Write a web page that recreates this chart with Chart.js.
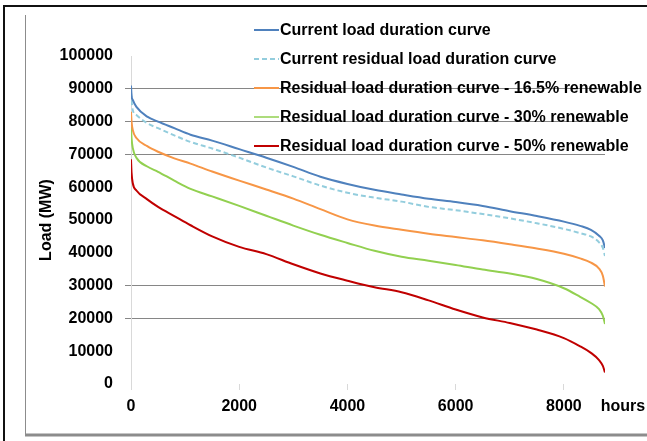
<!DOCTYPE html>
<html>
<head>
<meta charset="utf-8">
<script src="https://cdn.jsdelivr.net/npm/chart.js@4.4.1/dist/chart.umd.min.js"></script>
<style>
  body { margin: 0; background: #fff; }
  canvas { display: block; }
</style>
</head>
<body>
<canvas id="loadChart" width="647" height="441"></canvas>
<script>
// hours of the year, sorted load (MW) for each curve
var hours = [0, 10, 33, 100, 300, 500, 800, 1100, 1500, 2000, 2500, 3000, 3500, 4000, 4500,
  5000, 5500, 6000, 6500, 7000, 7500, 8000, 8300, 8500, 8650, 8720, 8760];
var currentLoad = [91000, 88000, 86600, 84500, 81500, 80000, 78000, 76000, 74200, 71600, 69000, 66200, 63200, 61000, 59200,
  57800, 56500, 55500, 54300, 52700, 51200, 49500, 48200, 47000, 45200, 43800, 41500];
var currentResidual = [89000, 86500, 83500, 82000, 79500, 78000, 75800, 73800, 71800, 69000, 66000, 63300, 60500, 58300, 56800,
  55600, 54000, 53000, 51800, 50500, 49000, 47300, 46000, 45000, 43200, 41500, 39000];
var residual165 = [83000, 80000, 77400, 75000, 72500, 70800, 68800, 67200, 64800, 62000, 59300, 56500, 53300, 50200, 48300,
  47000, 45800, 44800, 43800, 42600, 41300, 39700, 38300, 37000, 35200, 33000, 29700];
var residual30 = [78500, 75000, 71900, 69000, 66300, 64700, 62000, 59500, 57200, 54300, 51300, 48300, 45500, 43000, 40600,
  38800, 37600, 36300, 34900, 33700, 32000, 29200, 26600, 24700, 22800, 20800, 18300];
var residual50 = [68500, 64500, 61200, 59000, 56300, 54000, 51200, 48400, 45000, 41800, 39600, 36500, 33700, 31500, 29500,
  28000, 25500, 22700, 20300, 18600, 16600, 14000, 11500, 9500, 7300, 5500, 3500];

var seriesLabels = ["Current load duration curve", "Current residual load duration curve",
  "Residual load duration curve - 16.5% renewable", "Residual load duration curve - 30% renewable",
  "Residual load duration curve - 50% renewable"];
var seriesColors = ["#4F81BD", "#93CDDD", "#F79646", "#92D050", "#C00000"];
var xTicks = [0, 2000, 4000, 6000, 8000];
var shownGrid = [20000, 30000, 70000, 80000, 90000];

var fontName = "'Liberation Sans', Arial, sans-serif";

function toPoints(values) {
  var pts = [];
  for (var i = 0; i < hours.length; i++) {
    pts.push({ x: hours[i], y: values[i] });
  }
  return pts;
}

function makeDataset(i, values) {
  return {
    label: seriesLabels[i],
    data: toPoints(values),
    borderColor: seriesColors[i],
    backgroundColor: seriesColors[i],
    borderWidth: 2,
    borderDash: i == 1 ? [5, 3] : [],
    pointRadius: 0,
    cubicInterpolationMode: "monotone",
    fill: false
  };
}

// frame lines + legend + "hours" label
var decorPlugin = {
  id: "decor",
  beforeDraw: function (chart) {
    var c = chart.ctx;
    c.save();
    c.fillStyle = "#fff";
    c.fillRect(0, 0, chart.width, chart.height);
    c.strokeStyle = "#111";
    c.lineWidth = 2;
    c.beginPath();
    c.moveTo(4, 441); c.lineTo(4, 6); c.lineTo(647, 6);
    c.stroke();
    c.strokeStyle = "#8c8c8c";
    c.lineWidth = 1;
    c.beginPath();
    c.moveTo(25.5, 15); c.lineTo(25.5, 435);
    c.stroke();
    c.lineWidth = 3;
    c.beginPath();
    c.moveTo(25, 435); c.lineTo(647, 435);
    c.stroke();
    c.restore();
  },
  afterDraw: function (chart) {
    var c = chart.ctx;
    c.save();
    c.font = "bold 16px " + fontName;
    c.textBaseline = "middle";
    c.fillStyle = "#000";
    var ys = [30, 59, 88, 117, 146];
    chart.data.datasets.forEach(function (ds, i) {
      c.strokeStyle = ds.borderColor;
      c.lineWidth = i == 3 ? 1.5 : 2;
      c.setLineDash(ds.borderDash);
      c.beginPath();
      c.moveTo(254, ys[i]); c.lineTo(279, ys[i]);
      c.stroke();
      c.setLineDash([]);
      c.textAlign = "left";
      c.fillText(ds.label, 280, ys[i] + 1);
    });
    c.textAlign = "center";
    c.fillText("hours", chart.chartArea.right + 18, 407);
    c.restore();
  }
};

new Chart(document.getElementById("loadChart"), {
  type: "line",
  data: {
    datasets: [
      makeDataset(0, currentLoad),
      makeDataset(1, currentResidual),
      makeDataset(2, residual165),
      makeDataset(3, residual30),
      makeDataset(4, residual50)
    ]
  },
  options: {
    responsive: false,
    animation: false,
    devicePixelRatio: 1,
    layout: { padding: { left: 0, top: 56, right: 42, bottom: 0 } },
    plugins: {
      legend: { display: false },
      tooltip: { enabled: false }
    },
    scales: {
      x: {
        type: "linear",
        min: 0,
        max: 8760,
        afterBuildTicks: function (scale) {
          scale.ticks = xTicks.map(function (v) { return { value: v }; });
        },
        afterFit: function (scale) { scale.height = 57; },
        ticks: {
          autoSkip: false,
          maxRotation: 0,
          padding: 7,
          color: "#000",
          font: { family: fontName, size: 16, weight: "bold" },
          callback: function (value) { return String(value); }
        },
        grid: { drawOnChartArea: false, drawTicks: true, tickLength: 6, color: "#d9d9d9" },
        border: { display: false }
      },
      y: {
        min: 0,
        max: 100000,
        afterFit: function (scale) { scale.width = 131; },
        ticks: {
          stepSize: 10000,
          padding: 12,
          color: "#000",
          font: { family: fontName, size: 16, weight: "bold" },
          callback: function (value) { return String(value); }
        },
        grid: {
          tickLength: 6,
          color: function (ctx) {
            if (ctx.tick && shownGrid.indexOf(ctx.tick.value) >= 0) { return "#868686"; }
            return "rgba(0,0,0,0)";
          }
        },
        border: { display: true, color: "#d9d9d9" },
        title: {
          display: true,
          text: "Load (MW)",
          color: "#000",
          padding: { top: 37, bottom: 0 },
          font: { family: fontName, size: 16, weight: "bold" }
        }
      }
    }
  },
  plugins: [decorPlugin]
});
</script>
</body>
</html>
